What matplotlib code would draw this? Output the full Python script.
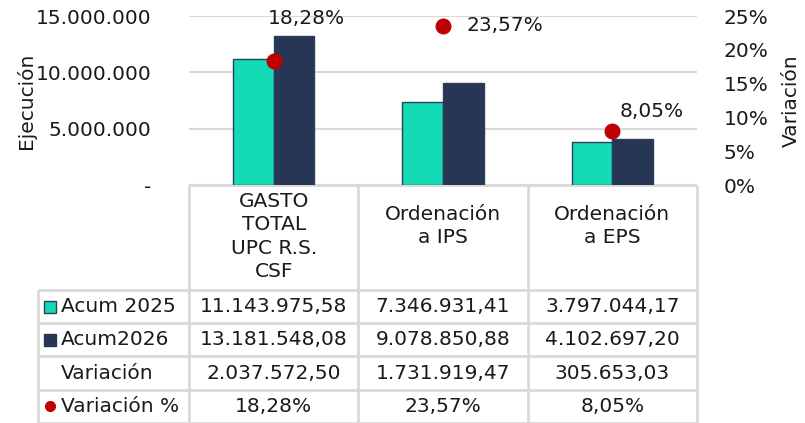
import numpy as np
import matplotlib.pyplot as plt
from matplotlib.ticker import FuncFormatter

# datos
categorias = ["GASTO\nTOTAL\nUPC R.S.\nCSF", "Ordenación\na IPS", "Ordenación\na EPS"]
acum_2025 = [11143975.58, 7346931.41, 3797044.17]
acum_2026 = [13181548.08, 9078850.88, 4102697.20]
variacion = [2037572.50, 1731919.47, 305653.03]
variacion_pct = [18.28, 23.57, 8.05]
filas = ["Acum 2025", "Acum2026", "Variación", "Variación %"]

c_2025 = "#12dbb5"
c_2026 = "#283656"
c_pct = "#c00000"
c_grid = "#d9d9d9"
c_txt = "#1a1a1a"
fs = 14.5

def miles(v, dec=2):
    s = f"{v:,.{dec}f}"
    return s.replace(",", "X").replace(".", ",").replace("X", ".")

def fmt_pct(v):
    return f"{v:.2f}".replace(".", ",") + "%"

W, H = 805, 423
fig = plt.figure(figsize=(W / 100, H / 100), dpi=100)

# area del grafico (pixeles)
x0, x1, yt, yb = 189, 697, 16, 185
ax = fig.add_axes([x0 / W, 1 - yb / H, (x1 - x0) / W, (yb - yt) / H])
x = np.arange(len(categorias))
bw = 0.24
ax.bar(x - bw / 2, acum_2025, bw, color=c_2025, edgecolor="#2c3e5a", linewidth=1, zorder=3)
ax.bar(x + bw / 2, acum_2026, bw, color=c_2026, edgecolor="#2c3e5a", linewidth=1, zorder=3)
ax.set_xlim(-0.5, len(categorias) - 0.5)
ax.set_ylim(0, 15000000)
ax.set_yticks([0, 5000000, 10000000, 15000000])
ax.yaxis.set_major_formatter(FuncFormatter(lambda v, p: "-" if v == 0 else miles(v, 0)))
ax.set_xticks([])
ax.grid(axis="y", color=c_grid, linewidth=1.5, zorder=0)
for s in ax.spines.values():
    s.set_visible(False)
ax.tick_params(axis="y", length=0, pad=27, labelsize=fs, labelcolor=c_txt)
ax.set_ylabel("Ejecución", fontsize=fs, color=c_txt, labelpad=0)

ax2 = ax.twinx()
ax2.set_ylim(0, 25)
ax2.set_yticks([0, 5, 10, 15, 20, 25])
ax2.yaxis.set_major_formatter(FuncFormatter(lambda v, p: f"{v:.0f}%"))
ax2.tick_params(axis="y", length=0, pad=19, labelsize=fs, labelcolor=c_txt)
for s in ax2.spines.values():
    s.set_visible(False)
ax2.set_ylabel("Variación", fontsize=fs, color=c_txt, labelpad=10)
ax2.scatter(x, variacion_pct, s=110, color=c_pct, zorder=5, clip_on=False)
offs = [(33, 43), (62, 0), (39, 19)]
for xi, v, o in zip(x, variacion_pct, offs):
    ax2.annotate(fmt_pct(v), (xi, v), xytext=o, textcoords="offset pixels",
                 ha="center", va="center", fontsize=fs, color=c_txt)

# tabla de datos
tx0 = 38
cw = (x1 - x0) / len(categorias)
tab = fig.add_axes([tx0 / W, 0, (x1 - tx0) / W, (H - yb) / H])
tab.set_xlim(-0.5 - (x0 - tx0) / cw, len(categorias) - 0.5)
alto_hdr, alto_fila = 105, 33.3
tab.set_ylim(alto_hdr + alto_fila * len(filas), 0)
tab.axis("off")

ybord = [0, alto_hdr] + [alto_hdr + alto_fila * (i + 1) for i in range(len(filas))]
xleft = tab.get_xlim()[0]
lw = 2
tab.hlines(0, -0.5, len(categorias) - 0.5, color=c_grid, lw=lw)
for yy in ybord[1:]:
    tab.hlines(yy, xleft, len(categorias) - 0.5, color=c_grid, lw=lw, clip_on=False)
for k in range(len(categorias) + 1):
    tab.vlines(k - 0.5, 0, ybord[-1], color=c_grid, lw=lw, clip_on=False)
tab.vlines(xleft, alto_hdr, ybord[-1], color=c_grid, lw=lw, clip_on=False)

for i, c in enumerate(categorias):
    n = c.count("\n") + 1
    tab.text(i, 7 + (4 - n) * 6.5, c, ha="center", va="top", fontsize=fs,
             color=c_txt, linespacing=1.3)

valores = [[miles(v) for v in acum_2025], [miles(v) for v in acum_2026],
           [miles(v) for v in variacion], [fmt_pct(v) for v in variacion_pct]]
lx = xleft + 23 / cw
for r, (nombre, fila) in enumerate(zip(filas, valores)):
    yc = alto_hdr + alto_fila * (r + 0.5)
    tab.text(lx, yc, nombre, ha="left", va="center", fontsize=fs, color=c_txt)
    for i, t in enumerate(fila):
        tab.text(i, yc, t, ha="center", va="center", fontsize=fs, color=c_txt)

mx = xleft + 12 / cw
yc = [alto_hdr + alto_fila * (r + 0.5) for r in range(len(filas))]
tab.plot(mx, yc[0], "s", ms=8, mfc=c_2025, mec="#2c3e5a", mew=1)
tab.plot(mx, yc[1], "s", ms=8, mfc=c_2026, mec=c_2026, mew=1)
tab.plot(mx, yc[3], "o", ms=7, mfc=c_pct, mec=c_pct)

fig.savefig("out.png", dpi=100)
